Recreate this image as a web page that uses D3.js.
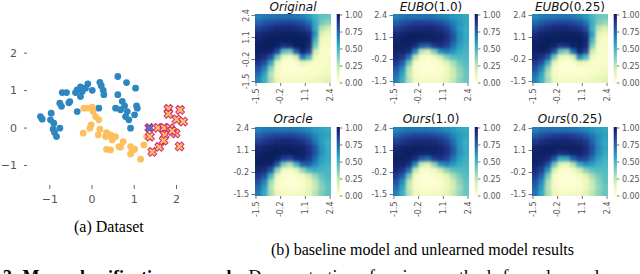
<!DOCTYPE html>
<html><head><meta charset="utf-8">
<script src="https://cdn.jsdelivr.net/npm/d3@7"></script>
<style>body{margin:0;background:#fff;overflow:hidden} svg{display:block}</style>
</head><body>
<svg id="c" width="640" height="274"></svg>
<script>
// ---------- scatter data (moons dataset) ----------
const blueX = [-1.209,-1.168,-0.955,-0.972,-0.893,-0.908,-0.751,-0.829,-0.877,-0.751,-0.694,-0.592,-0.514,-0.538,-0.339,-0.379,-0.339,-0.221,-0.261,-0.142,-0.088,0.017,0.197,0.230,0.277,0.292,0.173,0.623,0.829,1.043,0.623,0.727,0.569,0.782,0.687,0.846,0.806,1.066,1.083,1.019,0.924,0.884,-0.261,-0.711];
const blueY = [0.294,0.225,0.385,0.206,0.118,-0.043,-0.016,-0.241,-0.134,0.652,0.936,0.936,0.695,0.660,0.428,0.936,1.008,0.963,0.829,1.052,1.168,0.995,1.209,1.120,0.995,0.880,0.519,1.364,1.203,1.053,0.880,0.701,0.519,0.580,0.476,0.428,0.294,0.580,0.519,0.340,-0.016,0.206,1.086,0.567];
const orangeX = [-0.182,-0.088,0.017,0.040,0.095,0.173,-0.007,-0.040,-0.197,0.197,0.159,0.355,0.450,0.332,0.569,0.490,0.355,0.450,0.647,0.751,0.687,0.924,0.964,1.019,1.161,1.239,1.303,0.410,0.924];
const orangeY = [0.519,0.519,0.545,0.428,0.294,0.206,0.072,-0.016,-0.150,-0.043,-0.195,-0.134,-0.195,-0.241,-0.241,-0.329,-0.580,-0.596,-0.508,-0.374,-0.524,-0.508,-0.615,-0.578,-0.845,-0.463,-0.241,-0.222,-0.703];
const crossX = [1.367,1.382,1.439,1.571,1.604,1.718,1.856,1.730,1.706,1.991,2.014,1.820,1.820,2.097,2.168,2.085,1.908];
const crossY = [-0.008,-0.241,-0.650,-0.008,-0.516,-0.008,-0.017,-0.195,-0.348,-0.155,0.219,0.500,0.366,0.473,0.160,-0.503,-0.088];
const crossClass = [1,0,0,0,0,0,0,0,0,0,0,0,0,0,0,0,0];
const scatterXTicks = [-1,0,1,2];
const scatterYTicks = [-1,0,1,2];

// ---------- heatmap data ----------
const hmTicks = [-1.5,-0.2,1.1,2.4];
const cbTicks = [0,0.25,0.5,0.75,1];
const titleMain = ["Original","EUBO","EUBO","Oracle","Ours","Ours"];
const titleSuffix = ["","(1.0)","(0.25)","","(1.0)","(0.25)"];

const gridOriginal = [
[0.66,0.68,0.69,0.70,0.70,0.70,0.69,0.66,0.60,0.50,0.44,0.42],
[0.74,0.78,0.81,0.83,0.84,0.84,0.82,0.79,0.72,0.55,0.40,0.35],
[0.84,0.88,0.91,0.93,0.94,0.94,0.92,0.89,0.82,0.55,0.28,0.20],
[0.93,0.96,0.97,0.98,0.98,0.98,0.98,0.97,0.93,0.62,0.16,0.10],
[0.96,0.98,0.99,0.99,0.99,0.99,0.99,0.99,0.96,0.52,0.09,0.07],
[0.98,0.99,0.99,0.97,0.90,0.93,0.99,0.99,0.94,0.40,0.06,0.05],
[0.98,0.98,0.96,0.82,0.45,0.40,0.75,0.96,0.85,0.22,0.05,0.05],
[0.95,0.92,0.80,0.42,0.12,0.07,0.20,0.68,0.50,0.10,0.04,0.05],
[0.88,0.80,0.55,0.15,0.03,0.02,0.04,0.14,0.10,0.04,0.05,0.06],
[0.80,0.66,0.35,0.07,0.02,0.02,0.02,0.03,0.04,0.05,0.06,0.08],
[0.72,0.56,0.27,0.07,0.03,0.03,0.03,0.04,0.05,0.06,0.08,0.10],
[0.66,0.52,0.30,0.12,0.08,0.08,0.08,0.09,0.10,0.11,0.13,0.16]];
const gridEubo1 = [
[0.66,0.69,0.70,0.70,0.70,0.70,0.69,0.67,0.64,0.60,0.57,0.55],
[0.75,0.80,0.83,0.85,0.85,0.85,0.83,0.80,0.75,0.67,0.60,0.56],
[0.85,0.89,0.92,0.94,0.94,0.94,0.93,0.90,0.84,0.72,0.59,0.53],
[0.93,0.96,0.98,0.98,0.98,0.98,0.97,0.96,0.91,0.78,0.62,0.54],
[0.96,0.98,0.99,0.98,0.97,0.97,0.97,0.96,0.91,0.78,0.62,0.54],
[0.98,0.98,0.97,0.92,0.78,0.75,0.88,0.91,0.85,0.71,0.58,0.52],
[0.97,0.96,0.92,0.66,0.26,0.20,0.38,0.62,0.68,0.61,0.53,0.50],
[0.94,0.89,0.70,0.27,0.06,0.04,0.09,0.22,0.38,0.46,0.48,0.48],
[0.87,0.76,0.42,0.08,0.02,0.02,0.03,0.07,0.16,0.30,0.41,0.46],
[0.79,0.63,0.27,0.05,0.02,0.02,0.02,0.04,0.10,0.23,0.36,0.44],
[0.72,0.56,0.24,0.06,0.03,0.03,0.03,0.05,0.11,0.21,0.33,0.42],
[0.67,0.52,0.27,0.10,0.08,0.08,0.08,0.09,0.14,0.25,0.35,0.42]];
const gridEubo025 = [
[0.64,0.67,0.68,0.69,0.70,0.70,0.68,0.65,0.59,0.49,0.42,0.40],
[0.72,0.77,0.81,0.83,0.84,0.84,0.82,0.78,0.70,0.53,0.38,0.33],
[0.83,0.88,0.91,0.93,0.94,0.94,0.92,0.89,0.80,0.52,0.26,0.19],
[0.92,0.96,0.97,0.98,0.98,0.98,0.98,0.97,0.92,0.58,0.15,0.09],
[0.96,0.98,0.99,0.99,0.99,0.99,0.99,0.99,0.95,0.50,0.09,0.06],
[0.98,0.99,0.99,0.96,0.88,0.91,0.98,0.99,0.93,0.38,0.06,0.05],
[0.97,0.98,0.95,0.80,0.42,0.37,0.72,0.95,0.83,0.21,0.05,0.05],
[0.94,0.91,0.78,0.40,0.11,0.07,0.18,0.64,0.47,0.09,0.04,0.05],
[0.87,0.79,0.53,0.14,0.03,0.02,0.04,0.12,0.10,0.04,0.05,0.06],
[0.80,0.65,0.34,0.07,0.02,0.02,0.02,0.03,0.04,0.05,0.06,0.08],
[0.72,0.56,0.27,0.07,0.03,0.03,0.03,0.04,0.05,0.06,0.08,0.10],
[0.66,0.52,0.30,0.12,0.08,0.08,0.08,0.09,0.10,0.11,0.13,0.16]];
const gridOracle = [
[0.66,0.68,0.69,0.69,0.69,0.69,0.68,0.66,0.63,0.59,0.56,0.54],
[0.74,0.79,0.82,0.84,0.84,0.84,0.82,0.79,0.73,0.65,0.59,0.56],
[0.84,0.88,0.92,0.93,0.94,0.94,0.92,0.89,0.82,0.70,0.58,0.53],
[0.93,0.96,0.97,0.98,0.98,0.98,0.97,0.96,0.90,0.77,0.61,0.54],
[0.96,0.98,0.99,0.99,0.98,0.98,0.99,0.97,0.92,0.78,0.62,0.54],
[0.98,0.99,0.99,0.96,0.86,0.82,0.93,0.94,0.87,0.72,0.58,0.53],
[0.98,0.98,0.96,0.76,0.38,0.28,0.50,0.74,0.75,0.64,0.55,0.51],
[0.95,0.92,0.78,0.36,0.09,0.06,0.14,0.33,0.48,0.52,0.50,0.49],
[0.88,0.80,0.50,0.12,0.03,0.02,0.04,0.09,0.20,0.34,0.44,0.48],
[0.80,0.66,0.32,0.06,0.02,0.02,0.02,0.04,0.11,0.25,0.39,0.46],
[0.73,0.58,0.27,0.07,0.03,0.03,0.03,0.05,0.11,0.23,0.36,0.44],
[0.68,0.54,0.30,0.12,0.08,0.08,0.08,0.09,0.15,0.27,0.38,0.44]];
const gridOurs1 = [
[0.65,0.68,0.69,0.69,0.69,0.69,0.68,0.66,0.63,0.59,0.56,0.54],
[0.74,0.79,0.82,0.84,0.84,0.84,0.82,0.79,0.74,0.66,0.60,0.56],
[0.84,0.88,0.91,0.93,0.93,0.93,0.92,0.89,0.83,0.71,0.59,0.53],
[0.93,0.96,0.97,0.98,0.98,0.97,0.97,0.95,0.90,0.77,0.61,0.54],
[0.96,0.98,0.99,0.98,0.96,0.96,0.97,0.95,0.90,0.77,0.61,0.54],
[0.98,0.98,0.97,0.92,0.76,0.72,0.86,0.90,0.84,0.70,0.58,0.52],
[0.97,0.96,0.91,0.63,0.24,0.18,0.35,0.60,0.66,0.60,0.53,0.50],
[0.94,0.89,0.70,0.25,0.05,0.04,0.08,0.21,0.36,0.44,0.47,0.48],
[0.87,0.76,0.42,0.08,0.02,0.02,0.03,0.07,0.15,0.29,0.40,0.46],
[0.79,0.63,0.27,0.05,0.02,0.02,0.02,0.04,0.10,0.22,0.35,0.44],
[0.72,0.56,0.24,0.06,0.03,0.03,0.03,0.05,0.11,0.20,0.32,0.42],
[0.67,0.52,0.27,0.10,0.08,0.08,0.08,0.09,0.14,0.24,0.34,0.42]];
const gridOurs025 = [
[0.66,0.69,0.70,0.70,0.70,0.70,0.69,0.67,0.65,0.61,0.58,0.56],
[0.76,0.81,0.84,0.86,0.87,0.87,0.85,0.82,0.77,0.69,0.62,0.58],
[0.87,0.91,0.94,0.95,0.95,0.95,0.94,0.92,0.87,0.75,0.62,0.55],
[0.95,0.97,0.98,0.98,0.98,0.98,0.98,0.97,0.92,0.80,0.64,0.56],
[0.97,0.98,0.98,0.96,0.92,0.93,0.96,0.96,0.91,0.78,0.63,0.55],
[0.97,0.97,0.93,0.80,0.55,0.55,0.75,0.86,0.83,0.70,0.58,0.52],
[0.96,0.93,0.80,0.44,0.15,0.12,0.28,0.54,0.62,0.58,0.52,0.49],
[0.92,0.85,0.60,0.19,0.04,0.03,0.07,0.20,0.36,0.44,0.47,0.47],
[0.87,0.74,0.40,0.07,0.02,0.02,0.03,0.07,0.16,0.30,0.40,0.45],
[0.80,0.64,0.30,0.06,0.02,0.02,0.02,0.04,0.11,0.23,0.36,0.44],
[0.74,0.58,0.27,0.07,0.03,0.03,0.03,0.05,0.11,0.22,0.34,0.42],
[0.70,0.55,0.30,0.12,0.08,0.08,0.08,0.09,0.15,0.26,0.36,0.42]];

// ---------- drawing ----------
const svg = d3.select("#c");
const TICK = "#555", FONT = "DejaVu Sans, sans-serif", SERIF = "Liberation Serif, Times New Roman, serif";
const defs = svg.append("defs");

// ===== scatter =====
const sx = d3.scaleLinear().domain([-1,2]).range([49.3,176]);
const sy = d3.scaleLinear().domain([-1,2]).range([165,52.7]);
const BLUE = "#2e86c1", ORANGE = "#fdbf5f", XFILL = "#fdc35e", XEDGE = "#d6287a";
const minus = d => d < 0 ? "\u2212" + Math.abs(d) : String(d);

const ay = svg.append("g").attr("transform","translate(27,0)")
  .call(d3.axisLeft(sy).tickValues(scatterYTicks).tickSize(3).tickPadding(7).tickFormat(minus));
const ax = svg.append("g").attr("transform","translate(0,185)")
  .call(d3.axisBottom(sx).tickValues(scatterXTicks).tickSize(4).tickPadding(6.5).tickFormat(minus));
[ay, ax].forEach(a => {
  a.select(".domain").remove();
  a.selectAll("line").attr("stroke", TICK).attr("stroke-width", 0.9);
  a.selectAll("text").attr("fill", TICK).style("font-family", FONT).style("font-size","11px");
});

svg.append("g").selectAll("circle").data(d3.range(blueX.length)).join("circle")
  .attr("cx", i => sx(blueX[i])).attr("cy", i => sy(blueY[i])).attr("r", 3.4).attr("fill", BLUE);
svg.append("g").selectAll("circle").data(d3.range(orangeX.length)).join("circle")
  .attr("cx", i => sx(orangeX[i])).attr("cy", i => sy(orangeY[i])).attr("r", 3.4).attr("fill", ORANGE);
const xsym = d3.symbol().type(d3.symbolCross).size(48);
svg.append("g").selectAll("path").data(d3.range(crossX.length)).join("path")
  .attr("d", xsym)
  .attr("transform", i => `translate(${sx(crossX[i])},${sy(crossY[i])}) rotate(45)`)
  .attr("fill", i => crossClass[i] ? BLUE : XFILL)
  .attr("stroke", XEDGE).attr("stroke-width", 1);

// ===== heatmaps =====
const grids = [gridOriginal, gridEubo1, gridEubo025, gridOracle, gridOurs1, gridOurs025];
const colX = [255, 393, 532], rowY = [14, 127], HW = 76, HH = 69;
const color = d3.scaleSequential(d3.interpolateYlGnBu).domain([0,1]);

const grad = defs.append("linearGradient").attr("id","cbg").attr("x1",0).attr("y1",1).attr("x2",0).attr("y2",0);
d3.range(0,1.0001,0.05).forEach(t => grad.append("stop").attr("offset", t).attr("stop-color", color(t)));

const f = defs.append("filter").attr("id","sm").attr("x","-5%").attr("y","-5%").attr("width","110%").attr("height","110%")
  .attr("color-interpolation-filters","sRGB").style("color-interpolation-filters","sRGB");
f.append("feGaussianBlur").attr("stdDeviation", 1.5)
  .attr("color-interpolation-filters","sRGB").style("color-interpolation-filters","sRGB");

const EXT = 6;
grids.forEach((grid, k) => {
  const x0 = colX[k % 3], y0 = rowY[Math.floor(k / 3)];
  const nR = grid.length, nC = grid[0].length;
  const bx = d3.scaleBand().domain(d3.range(nC)).range([x0, x0 + HW]);
  const by = d3.scaleBand().domain(d3.range(nR)).range([y0, y0 + HH]);
  const cid = "clip" + k;
  defs.append("clipPath").attr("id", cid).append("rect")
    .attr("x", x0).attr("y", y0).attr("width", HW).attr("height", HH);
  const outer = svg.append("g").attr("clip-path", `url(#${cid})`);
  const g = outer.append("g").attr("filter","url(#sm)");
  const cells = [];
  grid.forEach((row, r) => row.forEach((v, c) => cells.push({r, c, v})));
  g.selectAll("rect").data(cells).join("rect")
    .attr("x", d => bx(d.c) - (d.c === 0 ? EXT : 0))
    .attr("y", d => by(d.r) - (d.r === 0 ? EXT : 0))
    .attr("width", d => bx.bandwidth() + 0.6 + (d.c === 0 || d.c === nC - 1 ? EXT : 0))
    .attr("height", d => by.bandwidth() + 0.6 + (d.r === 0 || d.r === nR - 1 ? EXT : 0))
    .attr("fill", d => color(d.v));

  const tx = d3.scaleLinear().domain([-1.5, 2.4]).range([x0 + 0.5, x0 + HW - 1.5]);
  const ty = d3.scaleLinear().domain([-1.5, 2.4]).range([y0 + HH - 2, y0 + 1]);
  const fmt = d3.format(".1f");
  const lab = d => fmt(d).replace("\u2212","-");
  const bxAx = svg.append("g").attr("transform", `translate(0,${y0 + HH})`)
    .call(d3.axisBottom(tx).tickValues(hmTicks).tickSize(3).tickPadding(2).tickFormat(lab));
  bxAx.selectAll("text").attr("transform","rotate(-90)").attr("x", -5.5).attr("y", 0)
    .attr("dy","0.35em").style("text-anchor","end");
  const lyAx = svg.append("g").attr("transform", `translate(${x0},0)`)
    .call(d3.axisLeft(ty).tickValues(hmTicks).tickSize(3.5).tickPadding(2.5).tickFormat(lab));
  if (k === 0) {
    lyAx.selectAll("text").attr("transform","rotate(-90)").attr("x", 0).attr("y", -6)
      .attr("dy", 0).style("text-anchor","middle");
  }
  const cbx = x0 + HW + 5.7, cbw = 3.2;
  svg.append("rect").attr("x", cbx).attr("y", y0).attr("width", cbw).attr("height", HH).attr("fill","url(#cbg)");
  const cs = d3.scaleLinear().domain([0,1]).range([y0 + HH - 0.5, y0 + 0.5]);
  const cAx = svg.append("g").attr("transform", `translate(${cbx + cbw},0)`)
    .call(d3.axisRight(cs).tickValues(cbTicks).tickSize(2.5).tickPadding(2.5).tickFormat(d3.format(".2f")));
  [bxAx, lyAx, cAx].forEach(a => {
    a.select(".domain").remove();
    a.selectAll("line").attr("stroke", TICK).attr("stroke-width", 0.8);
    a.selectAll("text").attr("fill", TICK).style("font-family", FONT).style("font-size","8px");
  });
  const t = svg.append("text").attr("x", x0 + HW / 2).attr("y", k < 3 ? 10.5 : 122.5)
    .attr("text-anchor","middle").style("font-family", FONT).style("font-size","12px").attr("fill","#111");
  t.append("tspan").style("font-style","italic").text(titleMain[k]);
  if (titleSuffix[k]) t.append("tspan").text(titleSuffix[k]);
});

// ===== captions =====
svg.append("text").attr("x", 74).attr("y", 232).style("font-family", SERIF).style("font-size","16px")
  .attr("fill","#000").text("(a) Dataset");
svg.append("text").attr("x", 271).attr("y", 255).style("font-family", SERIF).style("font-size","16px")
  .attr("fill","#000").text("(b) baseline model and unlearned model results");
const cap = svg.append("text").attr("x", 3).attr("y", 283).style("font-family", SERIF).style("font-size","18px").attr("fill","#000");
cap.append("tspan").style("font-weight","bold").text("3: Moon classification example.");
cap.append("tspan").text(" Demonstration of various methods for unlearned");
</script>
</body></html>
